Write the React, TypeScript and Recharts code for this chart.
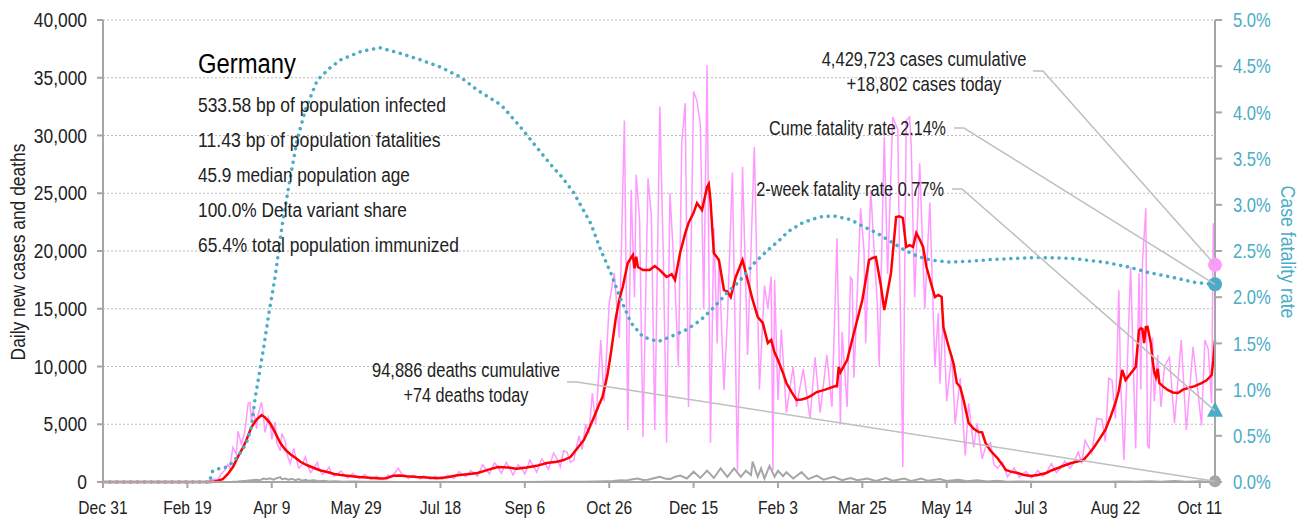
import { LineChart, Line, XAxis, YAxis, CartesianGrid, ReferenceDot } from 'recharts';

const W = 1306;
const H = 523;
const FACE = "'Liberation Sans'";
const FONT = "'Liberation Sans', Arial, sans-serif";
const PINK = '#FF99FF';
const RED = '#FF0000';
const GRAY = '#A6A6A6';
const TEAL = '#4BACC6';
const INK = '#222222';

// day 0 = Dec 31, 2019
const LAST_DAY = 659;
const dayTicks = [0, 50, 100, 150, 200, 250, 300, 350, 400, 450, 500, 550, 600, 650];
const dayLabels = ['Dec 31', 'Feb 19', 'Apr 9', 'May 29', 'Jul 18', 'Sep 6', 'Oct 26', 'Dec 15', 'Feb 3', 'Mar 25', 'May 14', 'Jul 3', 'Aug 22', 'Oct 11'];
const caseTicks = [0, 5000, 10000, 15000, 20000, 25000, 30000, 35000, 40000];
const rateTicks = [0, 0.5, 1, 1.5, 2, 2.5, 3, 3.5, 4, 4.5, 5];

// daily new cases [day, cases]
const dailyCases = [
  [0, 0], [60, 0], [62, 50], [64, 150], [66, 250], [68, 180], [70, 700], [72, 1000], [74, 1500], [75, 1200],
  [77, 3000], [79, 2400], [80, 4400], [82, 3300], [84, 4300], [86, 6800], [87, 6900], [88, 5300], [89, 6300],
  [91, 4600], [92, 5900], [94, 6900], [95, 5800], [96, 4300], [98, 5600], [99, 5200], [100, 3700], [102, 5200],
  [103, 3400], [105, 2700], [106, 4200], [108, 3500], [109, 2400], [111, 1600], [113, 2900], [114, 2300],
  [116, 1200], [118, 1500], [120, 2200], [121, 1600], [123, 800], [125, 1200], [127, 1700], [128, 1100],
  [130, 650], [132, 900], [134, 1300], [135, 900], [137, 500], [139, 700], [141, 950], [143, 600], [145, 350],
  [148, 750], [150, 450], [152, 300], [155, 650], [157, 400], [159, 220], [162, 500], [164, 350], [166, 200],
  [169, 600], [171, 400], [173, 800], [175, 1200], [177, 700], [179, 550], [181, 300], [184, 600], [186, 450],
  [188, 250], [190, 550], [192, 400], [194, 250], [197, 500], [199, 350], [201, 250], [204, 600], [206, 450],
  [208, 300], [211, 900], [213, 650], [215, 450], [218, 1000], [220, 750], [222, 500], [225, 1500], [227, 1100],
  [229, 700], [232, 1650], [234, 1300], [236, 750], [239, 1700], [241, 1200], [243, 600], [246, 1500], [248, 1200],
  [250, 700], [253, 1900], [255, 1400], [257, 850], [260, 2000], [262, 1600], [264, 1100], [267, 2500], [269, 2000],
  [271, 1300], [273, 2700], [275, 2600], [277, 1700], [279, 1900], [282, 4000], [284, 2800], [286, 5000],
  [288, 4200], [290, 7700], [292, 5000], [295, 12300], [297, 7000], [300, 15500], [303, 18100], [306, 12500],
  [309, 31300], [311, 4500], [313, 25300], [315, 16000], [316, 26600], [318, 22700], [320, 3900], [323, 26300],
  [325, 23000], [327, 4500], [330, 32500], [332, 20000], [334, 3400], [336, 25000], [339, 17000], [341, 10000],
  [343, 29400], [345, 32800], [347, 6500], [350, 33800], [352, 33000], [354, 31000], [356, 15000], [358, 36100],
  [360, 3400], [362, 22000], [364, 12000], [365, 19400], [368, 8000], [370, 14000], [373, 26800], [376, 1000],
  [379, 27300], [382, 11000], [386, 29000], [389, 8000], [392, 17000], [394, 15000], [396, 17800], [397, 1000],
  [398, 17500], [400, 7100], [402, 13200], [405, 6000], [409, 10000], [411, 6500], [415, 9800], [419, 5500],
  [422, 10800], [425, 6000], [429, 11000], [432, 6500], [435, 21100], [437, 5000], [438, 13000], [441, 6500],
  [443, 17700], [444, 17500], [445, 9000], [449, 23700], [451, 20000], [452, 12000], [455, 25300], [457, 20000],
  [459, 15000], [460, 10000], [463, 29900], [465, 18000], [467, 27000], [468, 31600], [471, 30500], [472, 20000],
  [474, 1300], [476, 31300], [478, 31600], [479, 29000], [481, 16000], [484, 27600], [487, 15000], [490, 24200],
  [493, 10000], [495, 14600], [496, 8500], [498, 14600], [500, 7000], [503, 11000], [505, 5000], [508, 9000],
  [511, 2300], [513, 6800], [516, 3000], [518, 5100], [521, 2000], [523, 3000], [526, 3400], [528, 1500],
  [530, 1200], [533, 1700], [536, 450], [538, 800], [540, 1200], [543, 400], [545, 700], [547, 900], [550, 350],
  [552, 600], [554, 1000], [557, 500], [559, 800], [562, 1600], [565, 800], [567, 1100], [570, 1800], [573, 1200],
  [575, 1600], [578, 2600], [580, 1600], [582, 3600], [586, 2500], [589, 5500], [592, 5400], [594, 3500],
  [596, 9000], [598, 8800], [600, 5500], [602, 16600], [603, 9000], [605, 1900], [607, 10000], [609, 18600],
  [611, 8000], [612, 2900], [614, 18100], [615, 8000], [616, 19000], [618, 23700], [619, 3200], [620, 2900],
  [622, 12500], [623, 7000], [625, 11000], [627, 6500], [629, 10000], [632, 10800], [635, 5100], [639, 12300],
  [642, 4500], [646, 11700], [648, 9000], [651, 4900], [653, 12300], [655, 11500], [657, 6800], [658, 22400],
  [659, 18802],
];

// 7-day average of new cases [day, cases]
const weeklyAvg = [
  [0, 0], [64, 0], [66, 50], [68, 120], [71, 250], [74, 700], [77, 1300], [80, 2200], [83, 3000], [85, 3640],
  [88, 4760], [91, 5400], [94, 5800], [96, 5600], [99, 5100], [102, 4300], [105, 3400], [108, 2800], [111, 2400],
  [114, 2100], [117, 1750], [121, 1450], [125, 1210], [129, 1000], [133, 870], [137, 700], [141, 600], [146, 520],
  [152, 430], [158, 370], [164, 300], [168, 330], [172, 550], [176, 560], [180, 500], [186, 430], [192, 380],
  [198, 330], [204, 420], [210, 580], [216, 680], [222, 780], [228, 1050], [234, 1300], [240, 1250], [245, 1150],
  [251, 1250], [257, 1400], [263, 1650], [269, 1750], [273, 1900], [277, 2160], [281, 2900], [285, 3640],
  [288, 4600], [291, 5630], [294, 6700], [296, 7360], [299, 9300], [301, 11170], [304, 14290], [306, 15800],
  [308, 16880], [311, 18960], [314, 19650], [315, 18500], [316, 19500], [317, 18610], [320, 18350], [324, 18350],
  [327, 18700], [330, 18350], [334, 17750], [337, 18000], [339, 17490], [342, 19830], [345, 21500], [347, 22420],
  [350, 23300], [352, 24150], [355, 23550], [358, 25540], [359, 25800], [360, 24410], [362, 19830], [365, 19220],
  [368, 16620], [370, 16500], [372, 16020], [375, 17750], [379, 19220], [382, 17490], [385, 15760], [388, 14290],
  [391, 13770], [394, 12030], [396, 12290], [398, 11200], [400, 10560], [403, 9440], [405, 8570], [408, 7800],
  [411, 7100], [414, 7150], [417, 7270], [420, 7500], [423, 7790], [428, 8000], [434, 8310], [435, 8300],
  [436, 9960], [437, 9500], [441, 10560], [445, 12900], [450, 15760], [454, 19220], [456, 19400], [458, 19480],
  [461, 17000], [463, 14890], [465, 16500], [467, 18100], [470, 22940], [472, 23000], [474, 22860], [476, 20350],
  [478, 20500], [480, 20350], [482, 21560], [484, 21000], [486, 20350], [488, 18610], [493, 16020], [495, 16200],
  [497, 16020], [498, 13420], [501, 11800], [504, 10300], [506, 8570], [508, 8220], [510, 7100], [513, 5110],
  [516, 4600], [519, 4330], [521, 4300], [523, 3380], [526, 2700], [530, 2080], [533, 1500], [535, 1040],
  [538, 900], [542, 780], [546, 600], [550, 520], [554, 600], [559, 780], [562, 1000], [566, 1210], [570, 1450],
  [574, 1640], [578, 1800], [581, 1900], [584, 2400], [587, 2940], [590, 3600], [594, 4500], [597, 5600],
  [600, 6840], [602, 7900], [604, 9700], [606, 8830], [609, 9400], [612, 9960], [614, 13160], [615, 13300],
  [616, 13250], [617, 12030], [618, 13400], [619, 13420], [621, 12000], [622, 10560], [623, 9500], [624, 9090],
  [625, 9800], [626, 8570], [628, 8300], [631, 7970], [634, 7750], [637, 7710], [640, 8000], [643, 8140],
  [647, 8300], [651, 8570], [654, 8800], [657, 9260], [658, 10500], [659, 12290],
];

// daily deaths [day, deaths]
const dailyDeaths = [
  [0, 0], [70, 0], [75, 10], [80, 40], [85, 100], [88, 150], [91, 200], [93, 150], [95, 300], [97, 250], [99, 320],
  [101, 200], [103, 330], [105, 420], [106, 250], [108, 300], [110, 200], [112, 280], [114, 150], [116, 250],
  [118, 120], [120, 200], [122, 100], [125, 150], [128, 70], [131, 100], [134, 50], [138, 60], [142, 30], [148, 40],
  [155, 20], [165, 15], [175, 10], [190, 8], [210, 5], [230, 8], [250, 10], [265, 15], [275, 20], [285, 30],
  [292, 50], [298, 70], [302, 90], [307, 160], [310, 120], [313, 220], [317, 300], [320, 180], [323, 200],
  [327, 350], [330, 460], [333, 300], [336, 250], [339, 450], [342, 550], [346, 300], [350, 890], [354, 350],
  [358, 980], [362, 350], [366, 1180], [370, 450], [374, 1180], [378, 450], [381, 980], [384, 600], [385, 1760],
  [388, 450], [390, 1180], [392, 300], [395, 1390], [398, 450], [400, 980], [403, 500], [405, 850], [409, 300],
  [414, 850], [418, 250], [423, 550], [427, 200], [433, 450], [438, 150], [443, 350], [447, 150], [453, 300],
  [458, 100], [464, 350], [468, 120], [475, 300], [479, 80], [485, 300], [489, 100], [496, 250], [500, 80],
  [507, 200], [512, 60], [518, 150], [524, 40], [530, 100], [536, 30], [545, 50], [555, 20], [565, 30], [575, 15],
  [585, 25], [595, 20], [605, 40], [612, 20], [620, 60], [627, 25], [635, 80], [642, 30], [650, 70], [655, 30],
  [659, 74],
];

// cumulative case fatality rate, % [day, pct]
const fatalityRate = [
  [0, 0], [63, 0], [65, 0.12], [68, 0.14], [70, 0.15], [73, 0.16], [76, 0.2], [79, 0.26], [82, 0.33], [85, 0.42],
  [88, 0.6], [90, 0.89], [95, 1.43], [98, 1.79], [102, 2.22], [106, 2.76], [110, 3.19], [115, 3.7], [120, 4.03],
  [127, 4.35], [135, 4.49], [141, 4.57], [153, 4.66], [164, 4.7], [176, 4.64], [188, 4.57], [200, 4.49],
  [212, 4.38], [222, 4.24], [236, 4.08], [247, 3.85], [258, 3.6], [266, 3.42], [272, 3.3], [279, 3.13],
  [289, 2.8], [295, 2.51], [301, 2.26], [307, 1.97], [313, 1.72], [320, 1.57], [329, 1.52], [336, 1.57],
  [346, 1.65], [354, 1.75], [362, 1.89], [370, 2.05], [378, 2.19], [386, 2.37], [394, 2.51], [401, 2.62],
  [406, 2.71], [415, 2.81], [425, 2.87], [433, 2.88], [443, 2.84], [449, 2.78], [459, 2.69], [467, 2.6],
  [475, 2.51], [483, 2.44], [491, 2.4], [502, 2.38], [514, 2.39], [528, 2.41], [554, 2.43], [574, 2.42],
  [593, 2.38], [607, 2.33], [619, 2.27], [635, 2.21], [647, 2.16], [659, 2.14],
];

const statLines = [
  '533.58 bp of population infected',
  '11.43 bp of population fatalities',
  '45.9 median population age',
  '100.0% Delta variant share',
  '65.4% total population immunized',
];
// rendered widths of the stat lines in the reference's condensed face
const statWidths = [248, 243, 212, 209, 261];

const casesToday = 18802;
const casesCumulative = 4429723;
const deathsToday = 74;
const deathsCumulative = 94886;
const cumeRate = 2.14;
const twoWeekRate = 0.77;

const toRows = (arr: number[][]) => arr.map(([d, v]) => ({ d, v }));

// plot box, must agree with margins and axis sizes below
const PLOT = { left: 103, right: 1215, top: 20, bottom: 482 };
const px = (d: number) => PLOT.left + (d / LAST_DAY) * (PLOT.right - PLOT.left);
const pyCases = (v: number) => PLOT.bottom - (v / 40000) * (PLOT.bottom - PLOT.top);
const pyRate = (v: number) => PLOT.bottom - (v / 5) * (PLOT.bottom - PLOT.top);

const fmt = (n: number) => n.toLocaleString('en-US');

// no condensed face installed: measure the regular one and squeeze it to the wanted width
const ctx = document.createElement('canvas').getContext('2d') as CanvasRenderingContext2D;
const textWidth = (s: string, size: number) => {
  ctx.font = `${size}px ${FACE}`;
  return ctx.measureText(s).width || s.length * size * 0.5;
};

const NText = ({ x, y, w, text, anchor = 'start', size = 21, fill = INK }: any) => {
  const sx = Math.min(1, w / textWidth(text, size));
  return (
    <text transform={`translate(${x},${y}) scale(${sx.toFixed(3)},1)`} textAnchor={anchor} fontSize={size} fill={fill}>
      {text}
    </text>
  );
};

const makeTick = (sx: number, anchor: string, dy: string, fill: string, size: number, format: (v: number) => string) =>
  (props: any) => {
    const { x, y, payload } = props;
    return (
      <text transform={`translate(${x},${y}) scale(${sx},1)`} textAnchor={anchor} dy={dy} fill={fill} fontSize={size}>
        {format(payload.value)}
      </text>
    );
  };

const Triangle = (props: any) => {
  const { cx, cy } = props;
  return <polygon points={`${cx},${cy - 9} ${cx + 8},${cy + 6} ${cx - 8},${cy + 6}`} fill={TEAL} />;
};

const Leader = ({ x0, y0, x1, y1 }: { x0: number; y0: number; x1: number; y1: number }) => (
  <polyline points={`${x0},${y0} ${x0 + 10},${y0} ${x1},${y1}`} fill="none" stroke="#BFBFBF" strokeWidth={1.5} />
);

export default function App() {
  const endX = px(LAST_DAY);
  return (
    <div style={{ position: 'absolute', left: 0, top: 0, width: W, height: H, background: '#fff', fontFamily: FONT }}>
      <LineChart width={W} height={H} margin={{ top: 20, right: 0, bottom: 0, left: 0 }}>
        <CartesianGrid yAxisId="left" vertical={false} stroke="#BDBDBD" strokeDasharray="2 2" />
        <XAxis
          dataKey="d"
          type="number"
          domain={[0, LAST_DAY]}
          ticks={dayTicks}
          height={41}
          stroke={GRAY}
          strokeWidth={2}
          tickSize={6}
          tickMargin={13}
          tick={makeTick(0.82, 'middle', '0.71em', INK, 19, (v) => dayLabels[dayTicks.indexOf(v)])}
          allowDuplicatedCategory={false}
        />
        <YAxis
          yAxisId="left"
          domain={[0, 40000]}
          ticks={caseTicks}
          width={103}
          stroke={GRAY}
          strokeWidth={2}
          tickSize={6}
          tickMargin={10}
          tick={makeTick(0.87, 'end', '0.355em', INK, 20, fmt)}
        />
        <YAxis
          yAxisId="right"
          orientation="right"
          domain={[0, 5]}
          ticks={rateTicks}
          width={91}
          stroke={GRAY}
          strokeWidth={2}
          tickSize={7}
          tickMargin={11}
          tick={makeTick(0.83, 'start', '0.355em', TEAL, 20, (v) => v.toFixed(1) + '%')}
        />
        <Line yAxisId="left" data={toRows(dailyCases)} dataKey="v" stroke={PINK} strokeWidth={1.5} dot={false} isAnimationActive={false} />
        <Line yAxisId="left" data={toRows(dailyDeaths)} dataKey="v" stroke={GRAY} strokeWidth={2} dot={false} isAnimationActive={false} />
        <Line yAxisId="left" data={toRows(weeklyAvg)} dataKey="v" stroke={RED} strokeWidth={2.5} dot={false} isAnimationActive={false} />
        <Line
          yAxisId="right"
          data={toRows(fatalityRate)}
          dataKey="v"
          stroke={TEAL}
          strokeWidth={3.5}
          strokeDasharray="0.1 6.8"
          strokeLinecap="round"
          dot={false}
          isAnimationActive={false}
        />
        <ReferenceDot yAxisId="left" x={LAST_DAY} y={casesToday} r={7} fill={PINK} stroke="none" />
        <ReferenceDot yAxisId="right" x={LAST_DAY} y={cumeRate} r={7} fill={TEAL} stroke="none" />
        <ReferenceDot yAxisId="right" x={LAST_DAY} y={twoWeekRate} r={8} shape={Triangle} />
        <ReferenceDot yAxisId="left" x={LAST_DAY} y={deathsToday} r={6} fill={GRAY} stroke="none" />
      </LineChart>

      <svg width={W} height={H} style={{ position: 'absolute', left: 0, top: 0, pointerEvents: 'none' }}>
        <NText x={198} y={73} w={98} size={28} fill="#000" text="Germany" />
        {statLines.map((s, i) => (
          <NText key={s} x={198} y={112 + i * 35} w={statWidths[i]} text={s} />
        ))}

        <g transform="translate(25,252) rotate(-90)">
          <NText x={0} y={0} w={217} anchor="middle" text="Daily new cases and deaths" />
        </g>
        <g transform="translate(1281,252) rotate(90)">
          <NText x={0} y={0} w={133} anchor="middle" fill={TEAL} text="Case fatality rate" />
        </g>

        <NText x={924} y={66} w={205} anchor="middle" text={`${fmt(casesCumulative)} cases cumulative`} />
        <NText x={924} y={91} w={155} anchor="middle" text={`+${fmt(casesToday)} cases today`} />
        <Leader x0={1033} y0={71} x1={endX} y1={pyCases(casesToday)} />

        <NText x={946} y={135} w={177} anchor="end" text={`Cume fatality rate ${cumeRate.toFixed(2)}%`} />
        <Leader x0={954} y0={128} x1={endX} y1={pyRate(cumeRate)} />

        <NText x={944} y={196} w={188} anchor="end" text={`2-week fatality rate ${twoWeekRate.toFixed(2)}%`} />
        <Leader x0={952} y0={189} x1={endX} y1={pyRate(twoWeekRate)} />

        <NText x={466} y={377} w={188} anchor="middle" text={`${fmt(deathsCumulative)} deaths cumulative`} />
        <NText x={466} y={402} w={125} anchor="middle" text={`+${deathsToday} deaths today`} />
        <Leader x0={567} y0={382} x1={endX} y1={pyCases(deathsToday)} />
      </svg>
    </div>
  );
}
